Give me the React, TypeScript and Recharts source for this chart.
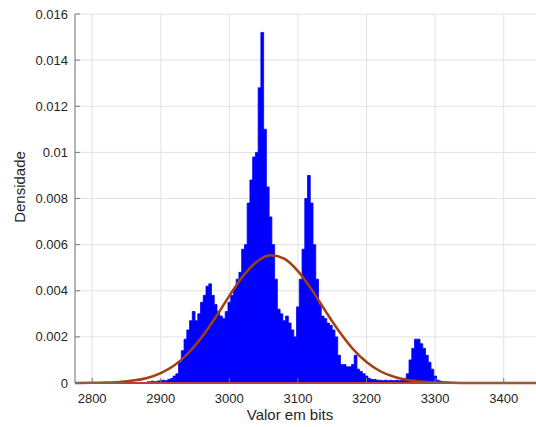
import React from 'react';
import { ComposedChart, Area, Line, XAxis, YAxis, CartesianGrid, ReferenceLine, Label } from 'recharts';

// Histogram: bin centres start at binStart, one bin every binWidth bits
const binStart = 2880;
const binWidth = 4;
const histDensity = [
  0.00005, 0.00005, 0.00008, 0.00005, 0.00008, 0.0001, 0.00012, 0.0001, 0.00015, 0.0002,
  0.0003, 0.0004, 0.0009, 0.0014, 0.0019, 0.0023, 0.0027, 0.0031, 0.0027, 0.003,
  0.0035, 0.0038, 0.0042, 0.0043, 0.0038, 0.0034, 0.0031, 0.0029, 0.0028, 0.0031,
  0.0035, 0.0038, 0.0041, 0.0045, 0.0048, 0.0058, 0.006, 0.0078, 0.0088, 0.0098,
  0.01, 0.0128, 0.0152, 0.011, 0.0085, 0.0072, 0.006, 0.0045, 0.0032, 0.003,
  0.0027, 0.0029, 0.0026, 0.0023, 0.002, 0.0033, 0.0045, 0.0058, 0.008, 0.009,
  0.0078, 0.006, 0.0045, 0.0034, 0.0029, 0.0028, 0.0026, 0.0025, 0.0023, 0.002,
  0.0012, 0.0008, 0.0008, 0.0007, 0.0007, 0.0008, 0.0012, 0.0006, 0.0005, 0.0004,
  0.0003, 0.0002, 0.00015, 0.00015, 0.00012, 0.00012, 0.0001, 0.00012, 0.0001, 0.00012,
  0.0001, 0.00012, 0.0001, 0.00012, 0.0002, 0.0004, 0.001, 0.0015, 0.0019, 0.0019,
  0.0017, 0.0015, 0.0012, 0.0009, 0.0006, 0.0003, 0.00012, 0.00008, 0.00005, 0.00005,
  0.00004, 0.00003, 0.00003, 0.00002, 0.00002, 0.00002,
];

// Fitted normal curve
const curveX = [
  2775, 2780, 2800, 2820, 2840, 2860, 2880, 2900, 2920, 2940, 2960, 2980, 3000, 3020, 3040,
  3060, 3080, 3100, 3120, 3140, 3160, 3180, 3200, 3220, 3240, 3260, 3280, 3300, 3320, 3340,
  3360, 3380, 3400, 3420, 3440, 3450,
];
const curveDensity = [
  0.000002, 0.0000025, 0.000007, 0.000019, 0.000046, 0.000104, 0.00022, 0.00043, 0.00077, 0.00129,
  0.00199, 0.00285, 0.00378, 0.00464, 0.00526, 0.00554, 0.00539, 0.00485, 0.00405, 0.00313,
  0.00224, 0.00148, 0.00091, 0.00051, 0.00027, 0.00013, 0.00006, 0.000024, 0.000009, 0.000003,
  0.000001, 0, 0, 0, 0, 0,
];

const xTicks = [2800, 2900, 3000, 3100, 3200, 3300, 3400];
const xTickLabels = ['2800', '2900', '3000', '3100', '3200', '3300', '3400'];
const yTicks = [0, 0.002, 0.004, 0.006, 0.008, 0.01, 0.012, 0.014, 0.016];
const yTickLabels = ['0', '0.002', '0.004', '0.006', '0.008', '0.01', '0.012', '0.014', '0.016'];

type Row = { x: number; density?: number; curve?: number };
const rowMap = new Map<number, Row>();
histDensity.forEach((d, i) => {
  const x = binStart + i * binWidth;
  rowMap.set(x, { ...(rowMap.get(x) || { x }), density: d });
});
curveX.forEach((x, i) => {
  rowMap.set(x, { ...(rowMap.get(x) || { x }), curve: curveDensity[i] });
});
const data: Row[] = Array.from(rowMap.values()).sort((a, b) => a.x - b.x);

const X_DOMAIN: [number, number] = [2775, 3450];
const CHART_W = 540;
const MARGIN = { top: 14, right: 2, bottom: 0, left: 0 };
const Y_AXIS_W = 75;

const FONT = 'Liberation Sans, Arial, Helvetica, sans-serif';
const TEXT = '#262626';
const AXIS = '#7a7a7a';
const X_TICK_MARGIN = 11;
const Y_TICK_MARGIN = 7;

const XTick = (props: any) => {
  const { x, y, payload } = props;
  const idx = xTicks.indexOf(payload.value);
  const axisY = y - X_TICK_MARGIN;
  return (
    <g>
      <line x1={x} x2={x} y1={axisY} y2={axisY - 5} stroke={AXIS} />
      <text x={x} y={y} dy="0.71em" textAnchor="middle" fill={TEXT} fontSize={13} fontFamily={FONT}>
        {idx >= 0 ? xTickLabels[idx] : payload.value}
      </text>
    </g>
  );
};

const TopTick = (props: any) => {
  const { x, y } = props;
  const axisY = y + X_TICK_MARGIN;
  return <line x1={x} x2={x} y1={axisY} y2={axisY + 5} stroke={AXIS} />;
};

const YTick = (props: any) => {
  const { x, y, payload } = props;
  const idx = Math.round(payload.value / 0.002);
  const axisX = x + Y_TICK_MARGIN;
  return (
    <g>
      <line x1={axisX} x2={axisX + 5} y1={y} y2={y} stroke={AXIS} />
      <text x={x} y={y} dy={4.5} textAnchor="end" fill={TEXT} fontSize={13} fontFamily={FONT}>
        {yTickLabels[idx] ?? payload.value}
      </text>
    </g>
  );
};

const YTitle = () => (
  <text
    x={19}
    y={187}
    transform="rotate(-90, 19, 187)"
    textAnchor="middle"
    dominantBaseline="central"
    fill={TEXT}
    fontSize={15}
    fontFamily={FONT}
  >
    Densidade
  </text>
);

const XTitle = () => (
  <text x={290} y={414} textAnchor="middle" dominantBaseline="central" fill={TEXT} fontSize={15} fontFamily={FONT}>
    Valor em bits
  </text>
);

export default function App() {
  return (
    <div style={{ position: 'absolute', left: 0, top: 0, width: 536, height: 427, overflow: 'hidden', background: '#fff' }}>
      <ComposedChart width={CHART_W} height={427} data={data} margin={MARGIN} style={{ fontFamily: FONT }}>
        <CartesianGrid stroke="#e2e2e2" strokeWidth={1} />
        <XAxis
          dataKey="x"
          type="number"
          domain={X_DOMAIN}
          ticks={xTicks}
          allowDataOverflow
          height={44}
          tickSize={0}
          tickMargin={X_TICK_MARGIN}
          tick={<XTick />}
          axisLine={{ stroke: AXIS }}
          tickLine={false}
        >
          <Label content={<XTitle />} />
        </XAxis>
        <XAxis
          xAxisId="top"
          orientation="top"
          dataKey="x"
          type="number"
          domain={X_DOMAIN}
          ticks={xTicks}
          allowDataOverflow
          height={0}
          tickSize={0}
          tickMargin={X_TICK_MARGIN}
          tick={<TopTick />}
          axisLine={{ stroke: AXIS }}
          tickLine={false}
        />
        <YAxis
          type="number"
          domain={[0, 0.016]}
          ticks={yTicks}
          width={Y_AXIS_W}
          tickSize={0}
          tickMargin={Y_TICK_MARGIN}
          tick={<YTick />}
          axisLine={{ stroke: AXIS }}
          tickLine={false}
        >
          <Label content={<YTitle />} />
        </YAxis>
        <Area
          dataKey="density"
          type="step"
          fill="#0000ff"
          fillOpacity={1}
          stroke="#0000ff"
          strokeWidth={0.8}
          connectNulls
          dot={false}
          activeDot={false}
          isAnimationActive={false}
        />
        <ReferenceLine y={0} stroke="#ff0000" strokeWidth={2} />
        <Line
          dataKey="curve"
          type="monotone"
          stroke="#a2400f"
          strokeWidth={2.5}
          dot={false}
          connectNulls
          isAnimationActive={false}
        />
      </ComposedChart>
    </div>
  );
}
